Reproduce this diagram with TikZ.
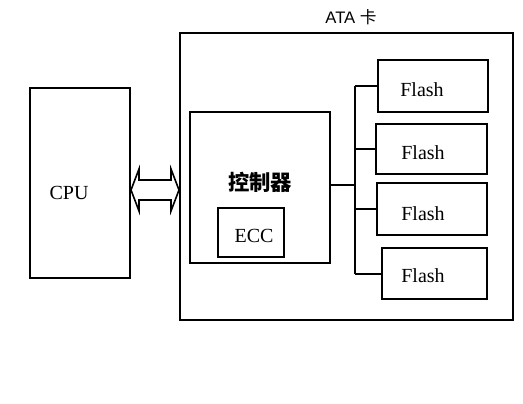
\documentclass[tikz,border=0pt]{standalone}
\usepackage{fontspec}
\setmainfont{Liberation Serif}
\setsansfont{Liberation Sans}
\newfontfamily\cjk{Noto Sans CJK SC}
\usepackage{tikz}

\tikzset{
  box/.style={draw, line width=1.5pt, inner sep=0pt},
  flashbox/.style={box, minimum width=82.5pt, minimum height=39pt},
  txt/.style={font=\fontsize{15}{15}\selectfont, inner sep=0pt},
  wire/.style={line width=1.5pt}
}

\begin{document}
\begin{tikzpicture}[x=0.75pt,y=-0.75pt]
  \useasboundingbox (0,0) rectangle (523,403);
  \node[box, minimum width=75pt, minimum height=142.5pt] (cpu) at (80,183) {};
  \node[txt] (cpulabel) at (69,193) {CPU};
  \node[box, minimum width=249.75pt, minimum height=215.25pt] (card) at (346.5,176.5) {};
  \node[font=\sffamily\fontsize{12.5}{12.5}\selectfont, inner sep=0pt] (cardlabel) at (351,17) {ATA {\cjk 卡}};
  \node[box, minimum width=105pt, minimum height=113.25pt] (ctrl) at (260,187.5) {};
  \node[font=\cjk\bfseries\fontsize{16}{16}\selectfont, inner sep=0pt] (ctrllabel) at (260,182) {控制器};
  \node[box, minimum width=49.5pt, minimum height=36.75pt] (ecc) at (251,232.5) {};
  \node[txt] (ecclabel) at (254,236) {ECC};
  \node[flashbox] (f1) at (433,86) {};
  \node[flashbox, minimum width=83.25pt, minimum height=37.5pt] (f2) at (431.5,149) {};
  \node[flashbox] (f3) at (431.5,209) {};
  \node[flashbox, minimum width=78.75pt, minimum height=38.25pt] (f4) at (434.5,273.5) {};
  \node[txt] (f1label) at (422,90) {Flash};
  \node[txt] (f2label) at (423,153) {Flash};
  \node[txt] (f3label) at (423,214) {Flash};
  \node[txt] (f4label) at (423,276) {Flash};
  \coordinate (bus) at (355,185);
  % bus lines
  \draw[wire] (ctrl.east |- bus) -- (bus);
  \draw[wire] (bus |- f1.west) -- (bus |- f4.west);
  \draw[wire] (bus |- f1.west) -- (f1.west);
  \draw[wire] (bus |- f2.west) -- (f2.west);
  \draw[wire] (bus |- f3.west) -- (f3.west);
  \draw[wire] (bus |- f4.west) -- (f4.west);
  % double arrow
  \draw[line width=1.2pt, fill=white] (cpu.east |- 0,190) -- (139,169) -- (139,180) -- (171,180) -- (171,169)
    -- (card.west |- 0,190) -- (171,211) -- (171,200) -- (139,200) -- (139,211) -- cycle;
\end{tikzpicture}
\end{document}
